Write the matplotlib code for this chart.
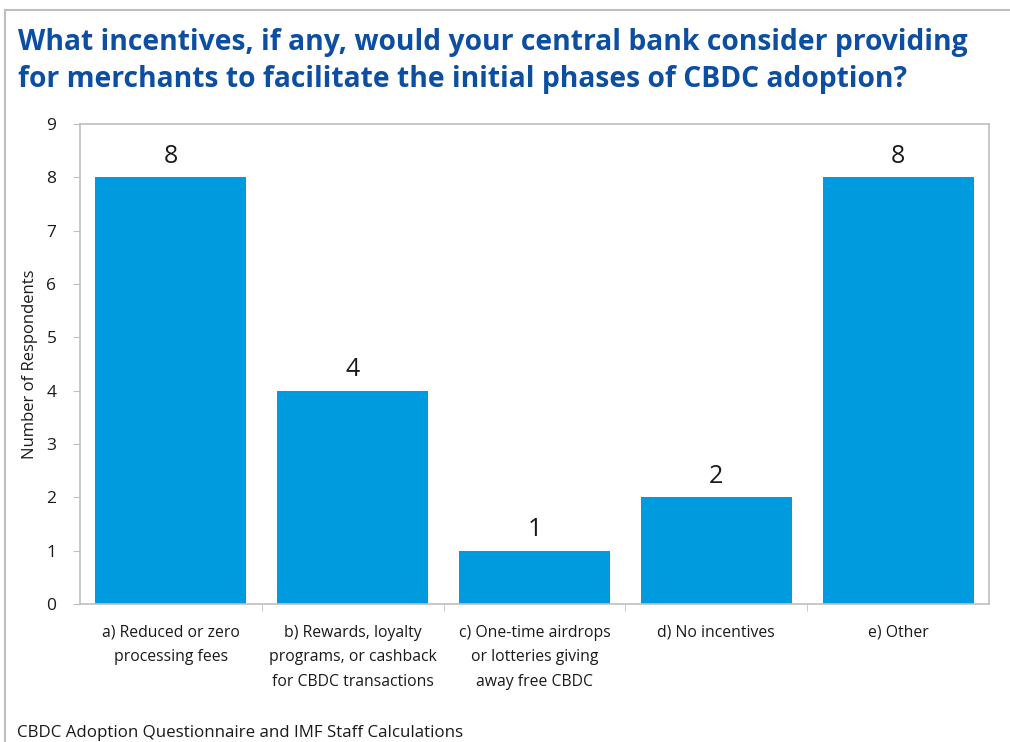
import numpy as np
import matplotlib.pyplot as plt
from matplotlib.lines import Line2D

# Datos de la encuesta
categorias = [
    'a) Reduced or zero\nprocessing fees',
    'b) Rewards, loyalty\nprograms, or cashback\nfor CBDC transactions',
    'c) One-time airdrops\nor lotteries giving\naway free CBDC',
    'd) No incentives',
    'e) Other',
]
respuestas = [8, 4, 1, 2, 8]

titulo = ('What incentives, if any, would your central bank consider providing\n'
          'for merchants to facilitate the initial phases of CBDC adoption?')
fuente = 'CBDC Adoption Questionnaire and IMF Staff Calculations'

plt.rcParams['font.family'] = ['Open Sans', 'DejaVu Sans']

fig = plt.figure(figsize=(10.10, 7.42), dpi=100)
ax = fig.add_axes([0.0792, 0.186, 0.9, 0.647])

x = np.arange(len(categorias))
ax.bar(x, respuestas, width=0.83, color='#009ADE', zorder=2)

for xi, v in zip(x, respuestas):
    ax.annotate(str(v), (xi, v), xytext=(0, 6), textcoords='offset points',
                ha='center', va='bottom', fontsize=18, color='#1a1a1a')

ax.set_xlim(-0.5, len(categorias) - 0.5)
ax.set_ylim(0, 9)
ax.set_yticks(range(0, 10))
ax.set_xticks(x)
ax.set_xticklabels(categorias, fontsize=11.3, color='#1a1a1a', linespacing=1.7)
ax.set_xticks(np.arange(0.5, len(categorias) - 0.5), minor=True)
ax.tick_params(axis='x', which='major', length=0, pad=15)
ax.tick_params(axis='x', which='minor', length=5, color='#BFBFBF', direction='out')
ax.tick_params(axis='y', length=5, color='#BFBFBF', labelsize=12.5,
               labelcolor='#1a1a1a', pad=12)
for s in ax.spines.values():
    s.set_color('#BFBFBF')
    s.set_linewidth(1.2)

ax.set_ylabel('Number of Respondents', fontsize=12, color='#1a1a1a', labelpad=6)

fig.text(0.0178, 1 - 28 / 742, titulo, fontsize=20.3, fontweight='bold',
         color='#0B4EA2', ha='left', va='top', linespacing=1.38)
fig.text(0.0168, 1 - 725 / 742, fuente, fontsize=12.2, color='#1a1a1a',
         ha='left', va='top')

# Marco gris exterior
fig.add_artist(Line2D([5 / 1010, 5 / 1010], [0, 1 - 10 / 742], transform=fig.transFigure,
                      color='#BFBFBF', lw=1.5))
fig.add_artist(Line2D([5 / 1010, 1], [1 - 10 / 742, 1 - 10 / 742], transform=fig.transFigure,
                      color='#BFBFBF', lw=1.5))

plt.savefig('out.png', dpi=100)
